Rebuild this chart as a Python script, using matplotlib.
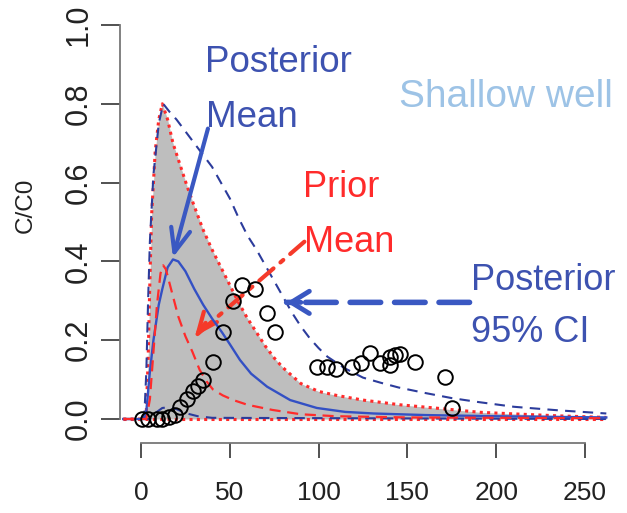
import matplotlib
matplotlib.use('Agg')
import matplotlib.pyplot as plt
from matplotlib import font_manager

plt.rcParams['font.family'] = ['Liberation Sans', 'DejaVu Sans']
names = {f.name for f in font_manager.fontManager.ttflist}
narrow = 'Liberation Sans Narrow' in names

# prior 95% upper bound (red dotted, top of grey band)
prior_up_x = [-10, 2, 3, 4, 5, 6, 8, 10, 12, 15, 18, 22, 26, 30, 35, 40, 45, 50, 55, 60, 65, 70, 75,
              80, 90, 100, 110, 125, 146, 170, 191, 210, 235, 262]
prior_up_y = [0, 0, 0.02, 0.15, 0.35, 0.52, 0.68, 0.76, 0.80, 0.76, 0.70, 0.645, 0.59, 0.54, 0.48, 0.43,
              0.385, 0.34, 0.295, 0.255, 0.22, 0.185, 0.155, 0.13, 0.09, 0.07, 0.06, 0.048, 0.036, 0.026,
              0.017, 0.013, 0.008, 0.004]
# prior 95% lower bound
prior_lo_x = [-10, 262]
prior_lo_y = [0, 0]

# posterior 95% CI (blue dashed)
post_up_x = [-10, 1, 2, 3, 4, 5, 7, 10, 12.5, 16, 20, 25, 30, 35, 40, 45, 50, 55, 60, 65, 70, 75, 80,
             85, 90, 95, 100, 105, 115, 125, 135, 145, 160, 175, 190, 210, 235, 262]
post_up_y = [0, 0, 0.02, 0.12, 0.30, 0.45, 0.62, 0.75, 0.80, 0.78, 0.76, 0.73, 0.70, 0.67, 0.64, 0.60,
             0.56, 0.51, 0.465, 0.43, 0.39, 0.35, 0.31, 0.27, 0.235, 0.205, 0.18, 0.158, 0.128, 0.105,
             0.092, 0.08, 0.066, 0.053, 0.043, 0.031, 0.022, 0.014]
post_lo_x = [-10, 5, 8, 12, 16, 20, 25, 32, 40, 262]
post_lo_y = [0, 0, 0.015, 0.028, 0.03, 0.025, 0.015, 0.007, 0.003, 0]

# posterior mean (blue solid)
post_mean_x = [-10, 2, 3, 5, 7, 10, 12, 15, 18, 21, 25, 30, 35, 40, 45.6, 50, 55.7, 62, 71, 84, 99,
               115, 131, 160, 200, 262]
post_mean_y = [0, 0, 0.02, 0.12, 0.20, 0.29, 0.33, 0.385, 0.405, 0.40, 0.375, 0.33, 0.29, 0.255, 0.22,
               0.19, 0.15, 0.115, 0.082, 0.048, 0.028, 0.018, 0.014, 0.01, 0.007, 0.004]

# prior mean (red dashed)
prior_mean_x = [-10, 3, 5, 7, 9, 11, 12.5, 14, 17.5, 21, 25, 29, 33, 37, 40.5, 46, 52, 60, 74, 90,
                110, 150, 262]
prior_mean_y = [0, 0, 0.05, 0.17, 0.29, 0.37, 0.39, 0.38, 0.32, 0.26, 0.21, 0.17, 0.125, 0.095, 0.075,
                0.06, 0.048, 0.036, 0.023, 0.012, 0.007, 0.004, 0.002]

# observations
obs_x = [0.6, 4, 9, 12, 16, 19, 22, 26, 29, 32, 35, 40.5, 46, 52, 57, 64, 71, 75.5, 99, 105, 110, 119,
         124, 129, 134.5, 140, 140, 143, 146, 154, 171, 175]
obs_y = [0, 0, 0, 0, 0.005, 0.01, 0.03, 0.05, 0.072, 0.085, 0.098, 0.145, 0.22, 0.30, 0.34, 0.33, 0.27,
         0.22, 0.133, 0.133, 0.128, 0.133, 0.143, 0.168, 0.143, 0.138, 0.158, 0.162, 0.166, 0.145,
         0.107, 0.028]

W, H = 627, 513
fig = plt.figure(figsize=(W / 100, H / 100), dpi=100)


def fx(x):
    return x / W


def fy(y):
    return 1 - y / H


# axes placed so that x=0 -> px 141, x=250 -> px 585, y=0 -> px 419, y=1 -> px 25
sx = 444 / 250
sy = 394
xmin, xmax = -21 / sx, 272
ymin, ymax = -24 / sy, 414 / sy
ax = fig.add_axes([fx(120), fy(443), (xmax - xmin) * sx / W, (ymax - ymin) * sy / H])
ax.set_xlim(xmin, xmax)
ax.set_ylim(ymin, ymax)

red = '#ff2b2b'
blue_d = '#2c3c9c'
blue_s = '#3350c4'

ax.fill_between(prior_up_x, prior_up_y, 0, color='#bebebe', lw=0, zorder=1)
ax.plot(prior_up_x, prior_up_y, color=red, lw=2.2, ls=(0, (1, 1.4)), zorder=3)
ax.plot(prior_lo_x, prior_lo_y, color=red, lw=2.2, ls=(0, (1, 1.4)), zorder=3)
ax.plot(post_up_x, post_up_y, color=blue_d, lw=1.5, ls=(0, (5, 3.5)), zorder=3)
ax.plot(post_lo_x, post_lo_y, color=blue_d, lw=1.5, ls=(0, (5, 3.5)), zorder=3)
ax.plot(post_mean_x, post_mean_y, color=blue_s, lw=1.7, zorder=4)
ax.plot(prior_mean_x, prior_mean_y, color=red, lw=1.6, ls=(0, (5, 3)), zorder=4)
ax.plot(obs_x, obs_y, 'o', ms=10.5, mfc='none', mec='black', mew=1.4, zorder=5)

for s in ['top', 'right']:
    ax.spines[s].set_visible(False)
ax.spines['left'].set_bounds(0, 1)
ax.spines['bottom'].set_bounds(0, 250)
for s in ['left', 'bottom']:
    ax.spines[s].set_color('#777777')
    ax.spines[s].set_linewidth(1.3)

ax.set_yticks([0, 0.2, 0.4, 0.6, 0.8, 1.0])
ax.set_yticklabels(['0.0', '0.2', '0.4', '0.6', '0.8', '1.0'])
ax.set_xticks([0, 50, 100, 150, 200, 250])
ax.tick_params(axis='y', length=14, width=1.2, color='#333333', pad=5, labelsize=22,
               labelrotation=90, labelcolor='#222222')
for t in ax.get_yticklabels():
    t.set_va('center')
if narrow:
    ax.tick_params(axis='x', length=11, width=1.2, color='#333333', pad=16, labelsize=22,
                   labelcolor='#222222', labelfontfamily='Liberation Sans Narrow')
else:
    ax.tick_params(axis='x', length=11, width=1.2, color='#333333', pad=16, labelsize=19,
                   labelcolor='#222222')

fig.text(fx(26), fy(205), 'C/C0', rotation=90, ha='center', va='center', fontsize=17.5,
         color='#222222')

# annotations
txt_blue = '#3d52b0'
arr_blue = '#3a58c2'
fig.text(fx(205), fy(72), 'Posterior', color=txt_blue, fontsize=26.5, va='baseline')
fig.text(fx(206), fy(127), 'Mean', color=txt_blue, fontsize=26.5, va='baseline')
fig.text(fx(303), fy(197), 'Prior', color=red, fontsize=26, va='baseline')
fig.text(fx(304), fy(252), 'Mean', color=red, fontsize=26, va='baseline')
fig.text(fx(399), fy(107), 'Shallow well', color='#9dc3e6', fontsize=28, va='baseline')
fig.text(fx(471), fy(290), 'Posterior', color=txt_blue, fontsize=26, va='baseline')
fig.text(fx(471), fy(342), '95% CI', color=txt_blue, fontsize=26, va='baseline')

# posterior mean arrow
ax.annotate('', xy=(18, 0.41), xytext=(37.7, 0.737), xycoords='data',
            arrowprops=dict(arrowstyle='->,head_length=1.7,head_width=0.7', lw=3,
                            color=arr_blue, shrinkA=0, shrinkB=0))

# prior mean arrow (dash-dot shaft)
pm_start, pm_end = (92, 0.45), (30.4, 0.21)
ax.annotate('', xy=pm_end, xytext=pm_start, xycoords='data',
            arrowprops=dict(arrowstyle='-', lw=3, ls=(0, (4.5, 2.2, 0.9, 2.2)), color='#f53a2a',
                            shrinkA=0, shrinkB=0))
ax.annotate('', xy=pm_end, xytext=(pm_end[0] + 6, pm_end[1] + 0.034), xycoords='data',
            arrowprops=dict(arrowstyle='->,head_length=1.4,head_width=0.6', lw=3,
                            color='#f53a2a', shrinkA=0, shrinkB=0))

# posterior CI arrow (thick dashed shaft)
ci_start, ci_end = (185, 0.296), (82, 0.296)
ax.annotate('', xy=ci_end, xytext=ci_start, xycoords='data',
            arrowprops=dict(arrowstyle='-', lw=4, ls=(0, (5.5, 2.5)), color=arr_blue,
                            shrinkA=0, shrinkB=0))
ax.annotate('', xy=ci_end, xytext=(ci_end[0] + 8, ci_end[1]), xycoords='data',
            arrowprops=dict(arrowstyle='->,head_length=1.3,head_width=0.8', lw=3.5,
                            color=arr_blue, shrinkA=0, shrinkB=0))

fig.savefig('out.png', dpi=100)
